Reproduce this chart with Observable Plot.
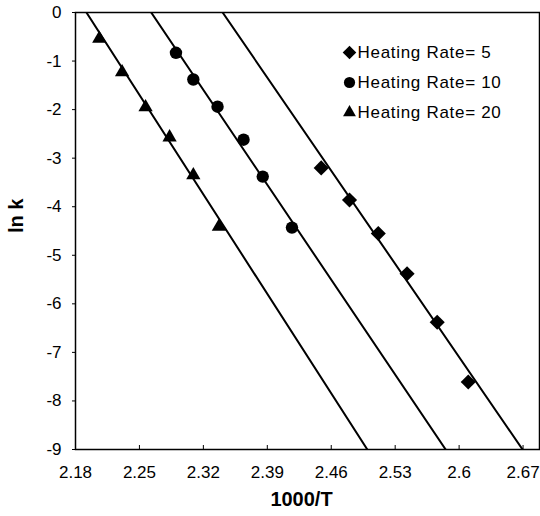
<!DOCTYPE html>
<html>
<head>
<meta charset="utf-8">
<script src="https://cdn.jsdelivr.net/npm/d3@7"></script>
<script src="https://cdn.jsdelivr.net/npm/@observablehq/plot@0.6"></script>
<style>
  html, body { margin: 0; padding: 0; background: white; }
  #chart { width: 540px; height: 516px; }
  #chart svg .legend text, #chart svg text.legend { letter-spacing: 0.7px; }
</style>
</head>
<body>
<div id="chart"></div>
<script>
// Series labels
const series = ["Heating Rate= 5", "Heating Rate= 10", "Heating Rate= 20"];
const symbols = ["diamond2", "circle", "triangle"];
const symbolR = [6.8, 6.2, 5.3];

// Data points (1000/T, ln k)
const rate5X  = [2.449, 2.480, 2.5115, 2.543, 2.576, 2.610];
const rate5Y  = [-3.20, -3.86, -4.55, -5.38, -6.38, -7.61];
const rate10X = [2.290, 2.309, 2.3355, 2.364, 2.385, 2.417];
const rate10Y = [-0.83, -1.38, -1.94, -2.62, -3.38, -4.43];
const rate20X = [2.206, 2.231, 2.2567, 2.283, 2.309, 2.337];
const rate20Y = [-0.54, -1.23, -1.95, -2.57, -3.35, -4.41];

// Fitted straight lines: lnk = intercept + slope * (1000/T)
const fitSlope     = [-27.41, -27.92, -29.27];
const fitIntercept = [64.17, 63.18, 64.16];

// Axis ticks
const xTicks = [2.18, 2.25, 2.32, 2.39, 2.46, 2.53, 2.6, 2.67];
const xTickLabels = ["2.18", "2.25", "2.32", "2.39", "2.46", "2.53", "2.6", "2.67"];
const yTicks = [0, -1, -2, -3, -4, -5, -6, -7, -8, -9];
const xDomain = [2.18, 2.688];
const yDomain = [-9, 0];

const xs = [rate5X, rate10X, rate20X];
const ys = [rate5Y, rate10Y, rate20Y];

const points = [];
xs.forEach((arr, s) => arr.forEach((x, i) => points.push({series: series[s], s, x, y: ys[s][i]})));

const fitLines = [];
series.forEach((name, s) => {
  xDomain.forEach(x => fitLines.push({series: name, x, y: fitIntercept[s] + fitSlope[s] * x}));
});

const font = "'Liberation Sans', Arial, Helvetica, sans-serif";

const marks = [
  Plot.line(fitLines, {x: "x", y: "y", z: "series", stroke: "black", strokeWidth: 2, clip: true}),
  ...series.map((name, s) => Plot.dot(points.filter(p => p.s === s), {
    x: "x", y: "y", symbol: () => symbols[s], r: symbolR[s], fill: "black", stroke: "none"
  })),
  Plot.axisX({
    ticks: xTicks, tickFormat: (d) => xTickLabels[xTicks.indexOf(d)],
    tickSize: -4, tickPadding: 20, label: null, fontSize: 17, fill: "black"
  }),
  Plot.axisY({
    ticks: yTicks, tickFormat: d => String(d),
    tickSize: 3, tickPadding: 11, label: null, fontSize: 17, fill: "black"
  }),
  Plot.frame({stroke: "black", strokeWidth: 1.5}),
  // Legend
  ...series.map((name, s) => Plot.dot([name], {
    frameAnchor: "top-left", dx: 274, dy: 40 + 30 * s,
    symbol: () => symbols[s], r: symbolR[s] * 0.9, fill: "black", stroke: "none"
  })),
  ...series.map((name, s) => Plot.text([name], {
    frameAnchor: "top-left", dx: 282, dy: 40 + 30 * s, text: d => d,
    textAnchor: "start", lineAnchor: "middle", fontSize: 17, fill: "black", className: "legend"
  })),
  // Axis titles
  Plot.text(["1000/T"], {
    frameAnchor: "bottom", dx: -6, dy: 50, text: d => d,
    fontSize: 20, fontWeight: "bold", fill: "black", lineAnchor: "middle"
  }),
  Plot.text(["ln k"], {
    frameAnchor: "left", dx: -59, dy: 2, text: d => d, rotate: -90,
    fontSize: 20, fontWeight: "bold", fill: "black", lineAnchor: "middle"
  })
];

const chart = Plot.plot({
  width: 540,
  height: 516,
  marginLeft: 75,
  marginRight: 1,
  marginTop: 12,
  marginBottom: 67,
  style: {fontFamily: font, fontSize: "17px", background: "white", color: "black"},
  x: {domain: xDomain, axis: null},
  y: {domain: yDomain, axis: null},
  marks
});
document.getElementById("chart").appendChild(chart);
</script>
</body>
</html>
